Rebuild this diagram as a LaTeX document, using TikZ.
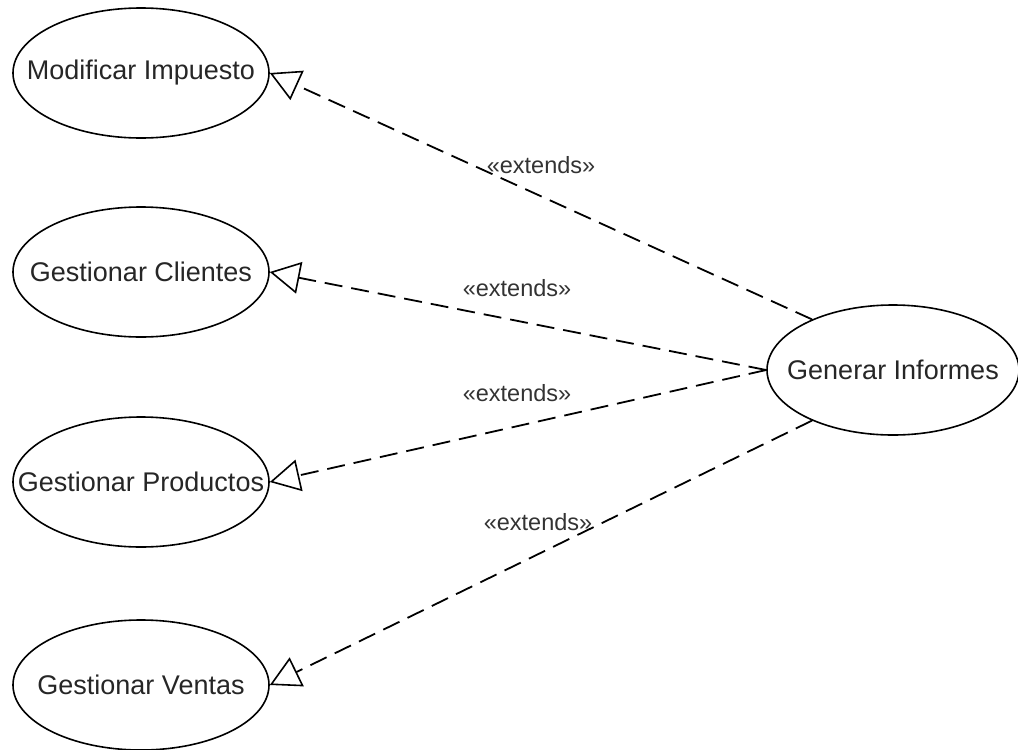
\documentclass[tikz,border=0pt]{standalone}
\usepackage{fontspec}
\setmainfont{Liberation Sans}
\usetikzlibrary{arrows.meta,shapes.geometric}
\tikzset{
  usecase/.style={draw=black, line width=1.6pt, ellipse, minimum width=256pt,
    minimum height=130pt, inner sep=0pt, text=black!85,
    font=\fontsize{27}{30}\selectfont},
  extline/.style={draw=black, line width=1.8pt, dash pattern=on 18pt off 9pt,
    -{Triangle[open, length=30pt, width=32pt, line width=1.6pt, fill=white]}},
  extlabel/.style={text=black!80, font=\fontsize{23.5}{26}\selectfont, inner sep=0pt}
}
% text of zero width so the ellipse keeps its fixed size
\newcommand{\uctext}[1]{\makebox[0pt]{#1}}
\begin{document}
\begin{tikzpicture}[x=1pt, y=-1pt]
  \useasboundingbox (0,0) rectangle (1018,750);

  % use cases
  \node[usecase] (mod)  at (141,73)  {\uctext{Modificar Impuesto}};
  \node[usecase] (cli)  at (141,272) {\uctext{Gestionar Clientes}};
  \node[usecase] (prod) at (141,482) {\uctext{Gestionar Productos}};
  \node[usecase] (ven)  at (141,685) {\uctext{Gestionar Ventas}};
  \node[usecase, minimum width=252pt] (gen) at (893,370) {\uctext{Generar Informes}};

  % extension relationships
  \draw[extline] (gen.148) -- (mod.east);
  \draw[extline] (gen.west) -- (cli.east);
  \draw[extline] (gen.west) -- (prod.east);
  \draw[extline] (gen.212) -- (ven.east);

  % stereotype labels
  \node[extlabel] (l1) at (541,165) {«extends»};
  \node[extlabel] (l2) at (517,288) {«extends»};
  \node[extlabel] (l3) at (517,393) {«extends»};
  \node[extlabel] (l4) at (538,522) {«extends»};
\end{tikzpicture}
\end{document}
